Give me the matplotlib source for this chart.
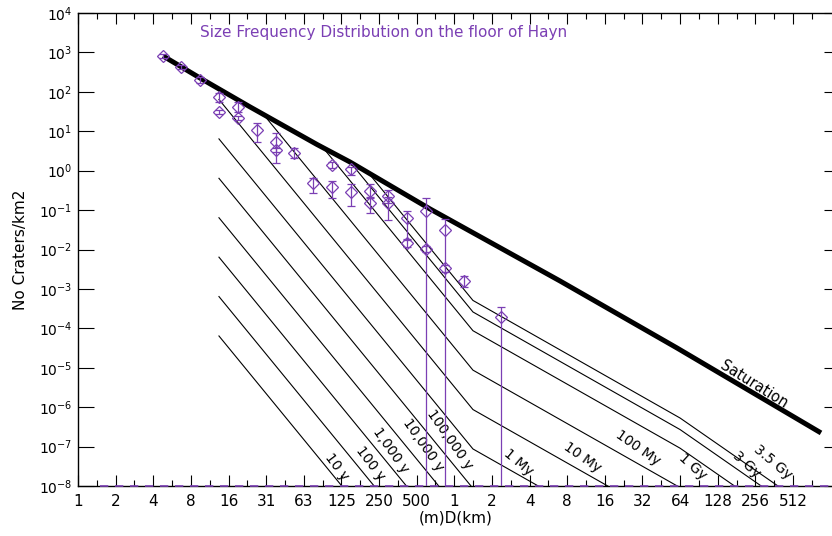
import numpy as np
import matplotlib.pyplot as plt
from matplotlib.path import Path
from matplotlib.ticker import FixedLocator, NullLocator, NullFormatter

purple = '#7b3fb4'

# bin centres of the crater counts, in km
diam_km = [0.00465, 0.00657, 0.00929, 0.01314, 0.01858, 0.02628, 0.03716,
           0.05256, 0.07433, 0.10511, 0.14865, 0.21022, 0.29730, 0.42045,
           0.59460, 0.84090, 1.18921, 1.68179, 2.37841]

nan = np.nan
# first count (with error bar limits)
cnt_a = [811, 427, 200, 74, 41, 10.8, 5.3, 2.8, nan, 1.39, 1.10, 0.305,
         0.228, 0.063, 0.095, 0.031, 1.59e-3, nan, 1.94e-4]
cnt_a_lo = [721, 379, 167, 55, 31, 5.3, 1.57, 2.1, nan, 1.17, 0.78, 0.203,
            0.151, 0.0175, 1e-12, 1e-12, 1.12e-3, nan, 1e-12]
cnt_a_hi = [912, 480, 238, 94, 55, 16.2, 9.0, 3.76, nan, 1.66, 1.24, 0.459,
            0.324, 0.095, 0.203, 0.0594, 2.13e-3, nan, 3.48e-4]

# second count
cnt_b = [nan, nan, nan, 30.8, 21.7, nan, 3.35, nan, 0.487, 0.386, 0.288,
         0.151, 0.151, 0.0146, 0.0103, 3.4e-3, nan, nan, nan]
cnt_b_lo = [nan, nan, nan, 27.4, 19.3, nan, 2.98, nan, 0.272, 0.203, 0.127,
            0.0844, 0.0561, 0.0116, 8.65e-3, 2.69e-3, nan, nan, nan]
cnt_b_hi = [nan, nan, nan, 34.6, 24.4, nan, 3.76, nan, 0.652, 0.547, 0.459,
            0.215, 0.215, 0.0185, 0.0123, 4.05e-3, nan, nan, nan]

# saturation curve
sat_d = [0.00468, 0.00925, 0.0233, 0.0798, 0.1464, 0.639, 7.01, 60.5, 858]
sat_n = [811, 224, 41.2, 4.61, 1.66, 0.107, 1.59e-3, 3.17e-5, 2.22e-7]

# isochrons, values at the break diameters
iso_d = [0.0131, 1.41, 64.0, 1110.0]
iso_10y = [6.4e-5, 8.7e-13, 9.1e-16, 1.7e-18]
iso_100y = [6.4e-4, 8.7e-12, 9.1e-15, 1.7e-17]
iso_1ky = [6.4e-3, 8.7e-11, 9.1e-14, 1.7e-16]
iso_10ky = [6.4e-2, 8.7e-10, 9.1e-13, 1.7e-15]
iso_100ky = [0.64, 8.7e-9, 9.1e-12, 1.7e-14]
iso_1my = [6.4, 8.7e-8, 9.1e-11, 1.7e-13]
iso_10my = [64, 8.7e-7, 9.1e-10, 1.7e-12]
iso_100my = [640, 8.7e-6, 9.1e-9, 1.7e-11]
iso_1gy = [6400, 8.7e-5, 9.1e-8, 1.7e-10]
iso_3gy = [19000, 2.6e-4, 2.7e-7, 5.0e-10]
iso_35gy = [37200, 5.1e-4, 5.3e-7, 9.9e-10]
isochrons = [iso_10y, iso_100y, iso_1ky, iso_10ky, iso_100ky, iso_1my,
             iso_10my, iso_100my, iso_1gy, iso_3gy, iso_35gy]

iso_names = ['10 y', '100 y', '1,000 y', '10,000 y', '100,000 y', '1 My',
             '10 My', '100 My', '1 Gy', '3 Gy', '3.5 Gy']
name_d = [0.1152, 0.2117, 0.312, 0.562, 0.924, 3.23, 10.5, 29.5, 81.2, 219.5, 354]
name_n = [3.04e-8, 3.84e-8, 8.2e-8, 1.10e-7, 1.47e-7, 4.07e-8, 5.46e-8,
          9.2e-8, 3.04e-8, 3.42e-8, 4.07e-8]
name_rot = [-53, -53, -55, -55, -55, -40, -35, -35, -42, -42, -40]

xtick_labels = ['1', '2', '4', '8', '16', '31', '63', '125', '250', '500',
                '1', '2', '4', '8', '16', '32', '64', '128', '256', '512']
ytick_labels = ['$10^{-8}$', '$10^{-7}$', '$10^{-6}$', '$10^{-5}$', '$10^{-4}$',
                '$10^{-3}$', '$10^{-2}$', '$10^{-1}$', '$10^{0}$', '$10^{1}$',
                '$10^{2}$', '$10^{3}$', '$10^{4}$']

fig = plt.figure(figsize=(8.32, 5.36), dpi=100)
ax = fig.add_axes([78 / 832, 50 / 536, 756 / 832, 473 / 536])
ax.set_xscale('log')
ax.set_yscale('log')
ax.set_xlim(2.0 ** -10, 2.0 ** 10.09)
ax.set_ylim(1e-8, 1e4)

# only draw isochrons below the saturation curve
clip_verts = list(zip(sat_d, sat_n)) + [(sat_d[-1], 1e-30), (sat_d[0], 1e-30)]
clip_path = Path(clip_verts)
for iso in isochrons:
    ln, = ax.plot(iso_d, iso, color='black', lw=0.8)
    ln.set_clip_path(clip_path, ax.transData)

ax.plot(sat_d, sat_n, color='black', lw=3.6, solid_capstyle='butt', zorder=3)

a = np.array(cnt_a)
b = np.array(cnt_b)
ax.errorbar(diam_km, a, yerr=[a - np.array(cnt_a_lo), np.array(cnt_a_hi) - a],
            fmt='D', ms=6, mfc='none', mec=purple, mew=0.9, ecolor=purple,
            elinewidth=0.9, capsize=3, capthick=0.9, zorder=4)
ax.errorbar(diam_km, b, yerr=[b - np.array(cnt_b_lo), np.array(cnt_b_hi) - b],
            fmt='D', ms=6, mfc='none', mec=purple, mew=0.9, ecolor=purple,
            elinewidth=0.9, capsize=3, capthick=0.9, zorder=4)

# purple trace running along the bottom axis
ax.plot([2.0 ** -9.42, 2.0 ** 10.09], [1e-8, 1e-8], color=purple, lw=1.2,
        ls=(0, (5, 4)), clip_on=False, zorder=5)

for name, d, n, r in zip(iso_names, name_d, name_n, name_rot):
    ax.text(d, n, name, rotation=r, rotation_mode='anchor', ha='center',
            va='center', fontsize=10)
ax.text(250, 3.66e-6, 'Saturation', rotation=-32, rotation_mode='anchor',
        ha='center', va='center', fontsize=10.5)

ax.text(0.162, 0.958, 'Size Frequency Distribution on the floor of Hayn',
        transform=ax.transAxes, color=purple, fontsize=11, ha='left', va='center')

# axes and ticks
major_x = 2.0 ** np.arange(-10, 10)
minor_x = 2.0 ** (np.arange(-10, 10) + 0.5)
ax.xaxis.set_major_locator(FixedLocator(major_x))
ax.xaxis.set_minor_locator(FixedLocator(minor_x))
ax.xaxis.set_minor_formatter(NullFormatter())
ax.set_xticklabels(xtick_labels, fontsize=11)
ax.set_yticks([10.0 ** k for k in range(-8, 5)])
ax.yaxis.set_minor_locator(NullLocator())
ax.set_yticklabels(ytick_labels, fontsize=10)
ax.tick_params(axis='x', which='major', direction='in', length=8, width=0.8,
               top=True, pad=6)
ax.tick_params(axis='x', which='minor', direction='in', length=4.5, width=0.8,
               top=True)
ax.tick_params(axis='y', which='major', direction='in', length=11.5, width=0.8,
               right=True, pad=4)
for t in ax.yaxis.get_major_ticks():
    t.tick2line.set_markersize(7)
for s in ax.spines.values():
    s.set_linewidth(1.0)

ax.set_xlabel('(m)D(km)', fontsize=11, labelpad=1)
ax.set_ylabel('No Craters/km2', fontsize=11, labelpad=8)

fig.savefig('out.png', dpi=100)
